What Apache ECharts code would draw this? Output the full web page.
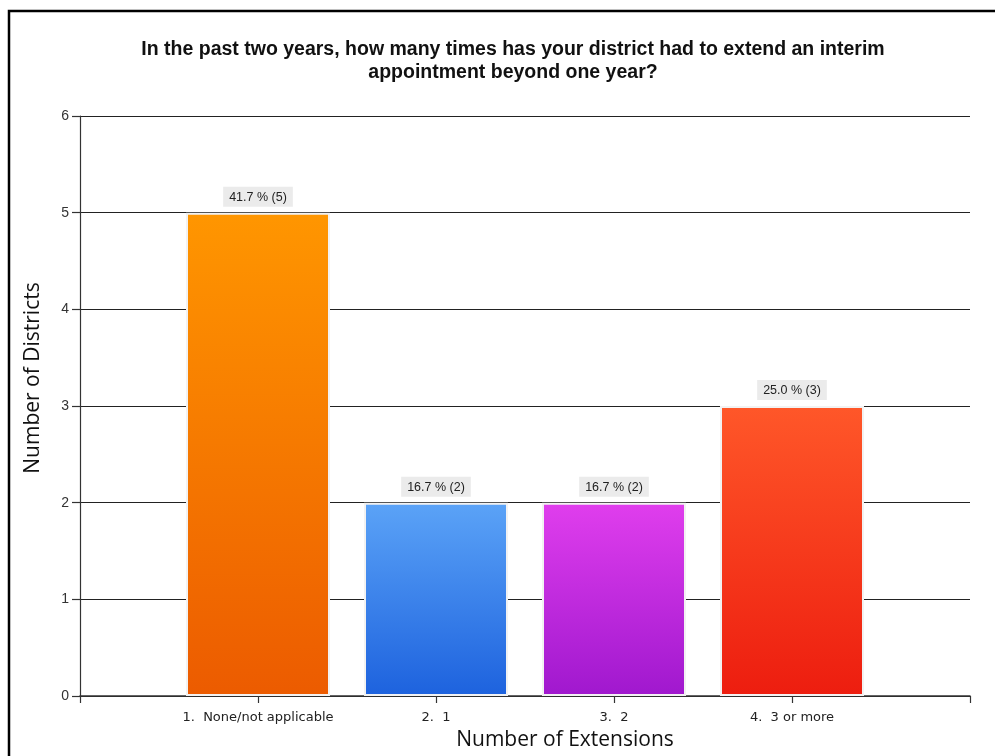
<!DOCTYPE html>
<html>
<head>
<meta charset="utf-8">
<script src="https://cdn.jsdelivr.net/npm/echarts@6/dist/echarts.min.js"></script>
<style>
  html, body { margin: 0; padding: 0; background: #fff; }
  #chart { width: 995px; height: 756px; }
</style>
</head>
<body>
<div id="chart"></div>
<script>
// Survey responses: number of districts per count of interim extensions
const categories = ['1.  None/not applicable', '2.  1', '3.  2', '4.  3 or more'];
const districtCounts = [5, 2, 2, 3];
const yTicks = [0, 1, 2, 3, 4, 5, 6];
const barGradients = [
  ['#FF9600', '#EC5B00'],
  ['#5BA3F7', '#1D62DE'],
  ['#E03EED', '#A018CE'],
  ['#FF5729', '#ED1D0F']
];

const total = districtCounts.reduce((a, b) => a + b, 0);

const chart = echarts.init(document.getElementById('chart'), null, { renderer: 'canvas' });

const barData = districtCounts.map((v, i) => ({
  value: [i + 1, v],
  itemStyle: {
    color: new echarts.graphic.LinearGradient(0, 0, 0, 1, [
      { offset: 0, color: barGradients[i][0] },
      { offset: 1, color: barGradients[i][1] }
    ])
  }
}));

chart.setOption({
  animation: false,
  backgroundColor: '#fff',
  title: {
    text: 'In the past two years, how many times has your district had to extend an interim\nappointment beyond one year?',
    left: 508,
    top: 33,
    textAlign: 'center',
    textStyle: {
      fontFamily: 'Liberation Sans, Arial, sans-serif',
      fontWeight: 'bold',
      fontSize: 19.5,
      lineHeight: 23,
      color: '#111'
    }
  },
  grid: { left: 80, right: 25, top: 116, bottom: 60, containLabel: false },
  xAxis: {
    type: 'value',
    min: 0,
    max: categories.length + 1,
    interval: 1,
    splitLine: { show: false },
    axisLine: { show: true, lineStyle: { color: '#333', width: 1.5 } },
    axisTick: { show: true, length: 7, lineStyle: { color: '#333', width: 1.2 } },
    axisLabel: {
      margin: 15,
      fontFamily: 'DejaVu Sans, Verdana, sans-serif',
      fontSize: 13,
      color: '#222',
      formatter: v => (v >= 1 && v <= categories.length) ? categories[v - 1] : ''
    }
  },
  yAxis: {
    type: 'value',
    min: yTicks[0],
    max: yTicks[yTicks.length - 1],
    interval: 1,
    axisLine: { show: true, lineStyle: { color: '#333', width: 1.2 } },
    axisTick: { show: true, length: 8, lineStyle: { color: '#333', width: 1.2 } },
    axisLabel: {
      margin: 11,
      fontFamily: 'Liberation Sans, Arial, sans-serif',
      fontSize: 14,
      color: '#333'
    },
    splitLine: { show: true, lineStyle: { color: '#222', width: 1.2 } }
  },
  series: [{
    type: 'bar',
    data: barData,
    barWidth: 144,
    itemStyle: { borderColor: '#f2f2f2', borderWidth: 2 },
    label: {
      show: true,
      position: 'top',
      distance: 6,
      backgroundColor: '#ebebeb',
      padding: [4, 6, 3, 6],
      fontFamily: 'Liberation Sans, Arial, sans-serif',
      fontSize: 12.5,
      color: '#222',
      formatter: p => (p.value[1] / total * 100).toFixed(1) + ' % (' + p.value[1] + ')'
    }
  }],
  graphic: [
    {
      type: 'rect',
      shape: { x: 9, y: 11, width: 1000, height: 800 },
      style: { fill: 'none', stroke: '#000', lineWidth: 2.5 },
      silent: true
    },
    {
      type: 'text',
      x: 33,
      y: 378,
      rotation: Math.PI / 2,
      style: {
        text: 'Number of Districts',
        font: '21px "Open Sans", "Noto Sans", sans-serif',
        fill: '#111',
        textAlign: 'center',
        textVerticalAlign: 'middle'
      }
    },
    {
      type: 'text',
      x: 565,
      y: 740,
      style: {
        text: 'Number of Extensions',
        font: '21px "Open Sans", "Noto Sans", sans-serif',
        fill: '#111',
        textAlign: 'center',
        textVerticalAlign: 'middle'
      }
    }
  ]
});
</script>
</body>
</html>
